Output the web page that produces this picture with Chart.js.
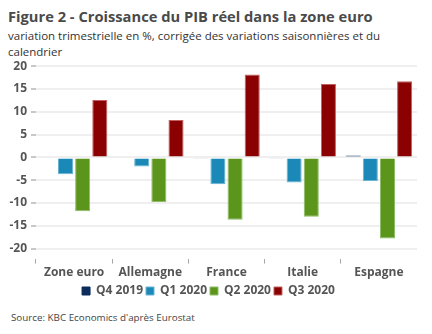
<!DOCTYPE html>
<html>
<head>
<meta charset="utf-8">
<script src="https://cdn.jsdelivr.net/npm/chart.js@4/dist/chart.umd.min.js"></script>
<style>
  html, body { margin: 0; padding: 0; background: #fff; }
  body { width: 432px; height: 334px; position: relative; overflow: hidden; font-family: 'Open Sans', sans-serif; }
  #title { position: absolute; left: 8px; top: 6px; font-size: 14.7px; font-weight: bold; color: #4a4a4a; white-space: nowrap; }
  #subtitle { position: absolute; left: 8px; top: 28px; font-size: 11.5px; line-height: 16px; color: #333; width: 420px; }
  #box { position: absolute; left: 0; top: 55px; width: 432px; height: 254px; }
  #source { position: absolute; left: 11px; top: 311px; font-size: 9.8px; color: #444; }
</style>
</head>
<body>
<div id="title">Figure 2 - Croissance du PIB réel dans la zone euro</div>
<div id="subtitle">variation trimestrielle en %, corrigée des variations saisonnières et du<br>calendrier</div>
<div id="box"><canvas id="gdp"></canvas></div>
<div id="source">Source: KBC Economics d'après Eurostat</div>
<script>
const regions = ['Zone euro', 'Allemagne', 'France', 'Italie', 'Espagne'];
const q4_2019 = [0.0, 0.0, -0.2, -0.2, 0.4];
const q1_2020 = [-3.7, -2.0, -5.9, -5.5, -5.2];
const q2_2020 = [-11.8, -9.8, -13.7, -13.0, -17.8];
const q3_2020 = [12.6, 8.2, 18.2, 16.1, 16.7];
const yTicks = [-20, -15, -10, -5, 0, 5, 10, 15, 20];

Chart.defaults.font.family = "'Open Sans', sans-serif";

const bar = (label, data, fill, edge) => ({
    label, data,
    backgroundColor: fill,
    borderColor: edge,
    borderWidth: 1,
    categoryPercentage: 0.9,
    barPercentage: 0.88
});

const data = {
    labels: regions,
    datasets: [
        bar('Q4 2019', q4_2019, '#0b2c5c', '#0b2c5c'),
        bar('Q1 2020', q1_2020, '#1b89b8', '#6bb3d3'),
        bar('Q2 2020', q2_2020, '#5b951b', '#8fbb66'),
        bar('Q3 2020', q3_2020, '#8b0000', '#c06060')
    ]
};

const config = {
    type: 'bar',
    data,
    options: {
        responsive: true,
        maintainAspectRatio: false,
        animation: false,
        layout: { padding: { top: 1, right: 15, left: 0, bottom: 2 } },
        scales: {
            x: {
                offset: true,
                border: { display: false },
                grid: {
                    offset: true,
                    drawOnChartArea: false,
                    tickLength: 5,
                    tickColor: ctx => ctx.type === 'tick' ? '#a8a8a8' : 'rgba(0,0,0,0)'
                },
                ticks: { color: '#555', padding: 2, font: { size: 12, weight: 'bold' } }
            },
            y: {
                min: -22.2,
                max: 20,
                afterBuildTicks: scale => { scale.ticks = yTicks.map(v => ({ value: v })); },
                afterFit: scale => { scale.width = 36; },
                border: { display: false },
                grid: { color: '#efefef', lineWidth: 2, tickColor: '#c8c8c8', tickLength: 5 },
                ticks: { color: '#555', padding: 4, font: { size: 12, weight: 'bold' } }
            }
        },
        plugins: {
            legend: {
                position: 'bottom',
                labels: {
                    boxWidth: 8, boxHeight: 8, padding: 3,
                    color: '#555',
                    font: { size: 12, weight: 'bold' }
                }
            },
            tooltip: { enabled: false }
        }
    }
};

new Chart(document.getElementById('gdp'), config);
</script>
</body>
</html>
